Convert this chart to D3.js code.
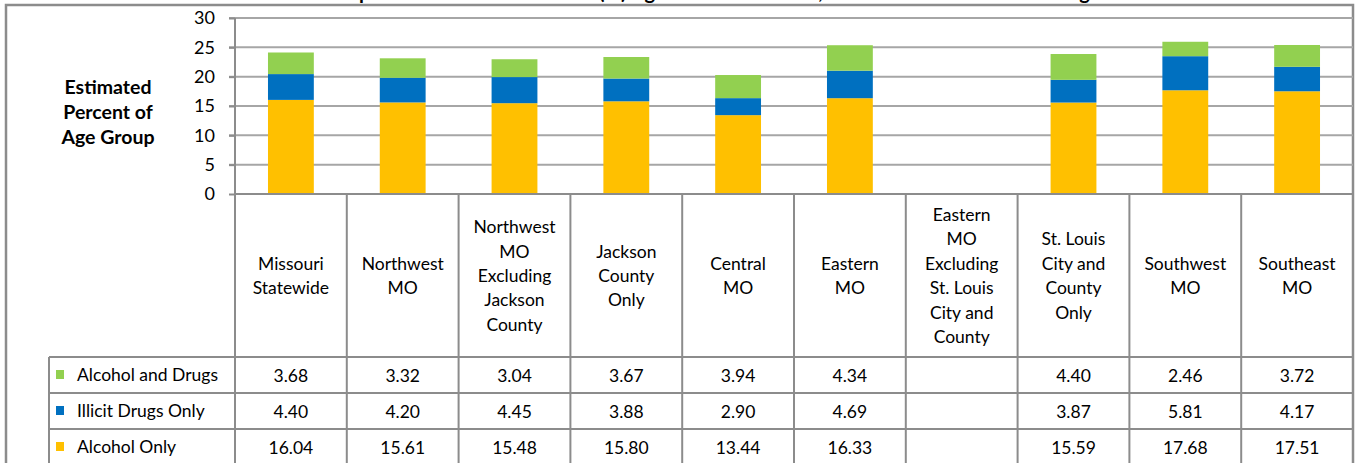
<!DOCTYPE html>
<html><head><meta charset="utf-8">
<script src="https://cdn.jsdelivr.net/npm/d3@7"></script>
<style>html,body{margin:0;padding:0;background:#fff;overflow:hidden}svg{display:block}</style>
</head><body>
<svg id="c" width="1356" height="463"></svg>
<script>
const title = "Comparison of Past Month Use (%) Age 12-17 Statewide, Missouri and Its Substate Regions";
const yTitle = ["Estimated", "Percent of", "Age Group"];
const categories = [
  ["Missouri","Statewide"],
  ["Northwest","MO"],
  ["Northwest","MO","Excluding","Jackson","County"],
  ["Jackson","County","Only"],
  ["Central","MO"],
  ["Eastern","MO"],
  ["Eastern","MO","Excluding","St. Louis","City and","County"],
  ["St. Louis","City and","County","Only"],
  ["Southwest","MO"],
  ["Southeast","MO"]
];
const seriesNames = ["Alcohol and Drugs", "Illicit Drugs Only", "Alcohol Only"];
const alcoholAndDrugs = [3.68, 3.32, 3.04, 3.67, 3.94, 4.34, null, 4.40, 2.46, 3.72];
const illicitDrugsOnly = [4.40, 4.20, 4.45, 3.88, 2.90, 4.69, null, 3.87, 5.81, 4.17];
const alcoholOnly = [16.04, 15.61, 15.48, 15.80, 13.44, 16.33, null, 15.59, 17.68, 17.51];
const yTicks = [0, 5, 10, 15, 20, 25, 30];
const colors = ["#92D050", "#0070C0", "#FFC000"];

const svg = d3.select("#c");
const font = "Lato, 'Liberation Sans', sans-serif";
const grey = "#8c8c8c";
const fs = 17.5;

const plotL = 235, plotR = 1353, plotT = 18, plotB = 194;
const x = d3.scaleBand().domain(d3.range(categories.length)).range([plotL, plotR]).padding(0);
const y = d3.scaleLinear().domain([0, 30]).range([plotB, plotT]);

// title (clipped at top, as in the reference)
svg.append("text").attr("x", 722).attr("y", -1).attr("text-anchor", "middle")
  .attr("font-family", font).attr("font-weight", "bold").attr("font-size", 20).attr("fill", "#000").text(title);

// outer frame
svg.append("path").attr("d", `M6,470V5H1353V470`).attr("fill", "none").attr("stroke", grey).attr("stroke-width", 2.5);

// gridlines
svg.append("g").selectAll("line").data(yTicks.filter(d => d > 0)).join("line")
  .attr("x1", plotL - 6).attr("x2", plotR).attr("y1", d => y(d)).attr("y2", d => y(d))
  .attr("stroke", "#a6a6a6").attr("stroke-width", 2);

// y axis
const yAxis = d3.axisLeft(y).tickValues(yTicks).tickSize(6).tickPadding(14);
const ga = svg.append("g").attr("transform", `translate(${plotL},0)`).call(yAxis);
ga.select(".domain").attr("stroke", grey).attr("stroke-width", 2).attr("d", `M0,${plotT}V${plotB}`);
ga.selectAll(".tick line").attr("stroke", grey).attr("stroke-width", 2);
ga.selectAll(".tick text").attr("font-family", font).attr("font-size", 18).attr("fill", "#000");

// y title
svg.append("text").attr("font-family", font).attr("font-weight", "bold").attr("font-size", 19.5)
  .attr("text-anchor", "middle").selectAll("tspan").data(yTitle).join("tspan")
  .attr("x", 108).attr("y", (d, i) => 94 + i * 25).text(d => d);

// stacked bars
const rows = categories.map((c, i) => ({i, "Alcohol Only": alcoholOnly[i], "Illicit Drugs Only": illicitDrugsOnly[i], "Alcohol and Drugs": alcoholAndDrugs[i]}))
  .filter(r => r["Alcohol Only"] != null);
const stack = d3.stack().keys(["Alcohol Only", "Illicit Drugs Only", "Alcohol and Drugs"])(rows);
const stackColors = {"Alcohol Only": colors[2], "Illicit Drugs Only": colors[1], "Alcohol and Drugs": colors[0]};
const bw = x.bandwidth() * 0.41;
svg.append("g").selectAll("g").data(stack).join("g").attr("fill", s => stackColors[s.key])
  .selectAll("rect").data(s => s).join("rect")
  .attr("x", d => x(d.data.i) + (x.bandwidth() - bw) / 2).attr("width", bw)
  .attr("y", d => y(d[1])).attr("height", d => y(d[0]) - y(d[1]));

// x axis baseline
svg.append("line").attr("x1", plotL).attr("x2", plotR).attr("y1", plotB).attr("y2", plotB).attr("stroke", grey).attr("stroke-width", 2);

// data table
const rowTop = 357, rowH = 36;
const tbl = svg.append("g");
categories.forEach((lines, i) => {
  const cx = x(i) + x.bandwidth() / 2, cy = 276;
  const lh = 24.4;
  tbl.append("text").attr("font-family", font).attr("font-size", fs).attr("text-anchor", "middle").attr("fill", "#000")
    .selectAll("tspan").data(lines).join("tspan").attr("x", cx)
    .attr("y", (d, j) => cy + (j - (lines.length - 1) / 2) * lh + 6).text(d => d);
});
x.domain().concat([categories.length]).forEach(k => {
  const xx = k < categories.length ? x(k) : plotR;
  tbl.append("line").attr("x1", xx).attr("x2", xx).attr("y1", plotB).attr("y2", 470).attr("stroke", grey).attr("stroke-width", 2);
});
tbl.append("line").attr("x1", 49).attr("x2", 49).attr("y1", rowTop).attr("y2", 470).attr("stroke", grey).attr("stroke-width", 2);
[0, 1, 2].forEach(r => {
  tbl.append("line").attr("x1", 49).attr("x2", plotR).attr("y1", rowTop + r * rowH).attr("y2", rowTop + r * rowH)
    .attr("stroke", grey).attr("stroke-width", 2);
});
const tableSeries = [alcoholAndDrugs, illicitDrugsOnly, alcoholOnly];
seriesNames.forEach((name, r) => {
  const cy = rowTop + r * rowH + rowH / 2;
  tbl.append("rect").attr("x", 56).attr("y", cy - 5).attr("width", 8).attr("height", 9).attr("fill", colors[r]);
  tbl.append("text").attr("x", 77).attr("y", cy + 6).attr("font-family", font).attr("font-size", fs).attr("fill", "#000").text(name);
  tableSeries[r].forEach((v, i) => {
    if (v == null) return;
    tbl.append("text").attr("x", x(i) + x.bandwidth() / 2).attr("y", cy + 7).attr("text-anchor", "middle")
      .attr("font-family", font).attr("font-size", fs).attr("fill", "#000").text(v.toFixed(2));
  });
});
</script>
</body></html>
